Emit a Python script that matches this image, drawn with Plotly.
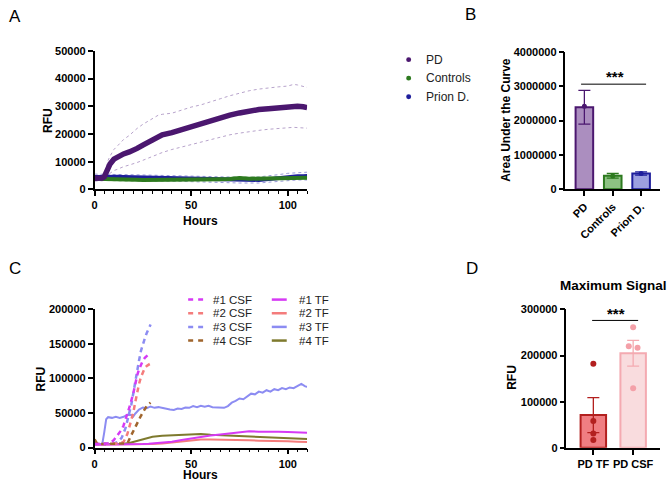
import plotly.graph_objects as go

W, H = 667, 488
def px(x): return x / W
def py(y): return 1 - y / H

FONT = "Liberation Sans, Arial, sans-serif"

# ---------------- Panel A data ----------------
hours_a = [0, 2, 4, 5, 6, 7, 8, 10, 12, 15, 18, 20, 22, 25, 28, 30, 33, 35,
           40, 45, 50, 55, 60, 65, 70, 75, 80, 85, 90, 95, 100, 103, 105, 108, 110]
pd_mean = [4000, 4000, 4100, 4500, 6500, 8000, 9200, 10900, 11800, 12800, 13500, 14000, 14800, 16000, 17200, 18000, 19300, 19700,
           20500, 21600, 22600, 23700, 24700, 25600, 26800, 27600, 28300, 28800, 29100, 29400, 29900, 30200, 30000, 29800, 29500]
pd_upper = [5000, 5000, 5100, 5400, 8500, 10500, 12000, 14400, 15800, 18000, 19500, 20900, 22000, 23500, 24800, 25600, 26800, 27100,
            27500, 28600, 29700, 30500, 31500, 32700, 33800, 34800, 35600, 36200, 36700, 37000, 37300, 37900, 37700, 37200, 36800]
pd_lower = [3000, 3000, 3100, 3500, 4500, 5300, 5800, 6800, 7300, 8200, 8800, 9150, 9700, 10500, 11300, 12100, 12800, 13300,
            14400, 15300, 16200, 17100, 18000, 18900, 19700, 20300, 20900, 21300, 21700, 22000, 22400, 22400, 22300, 22200, 22100]
ctrl_mean = [3800, 3800, 3750, 3750, 3700, 3700, 3700, 3650, 3600, 3550, 3500, 3500, 3450, 3400, 3400, 3350, 3350, 3300,
             3300, 3300, 3350, 3450, 3550, 3650, 3750, 4100, 3850, 3900, 3950, 4000, 4050, 4100, 4100, 4150, 4200]
ctrl_upper = [4300, 4300, 4250, 4250, 4200, 4200, 4200, 4150, 4100, 4050, 4000, 4000, 3950, 3900, 3900, 3850, 3850, 3800,
              3800, 3800, 3850, 3950, 4050, 4150, 4250, 4600, 4350, 4400, 4450, 4500, 4550, 4600, 4600, 4650, 4700]
ctrl_lower = [3300, 3300, 3250, 3250, 3200, 3200, 3200, 3150, 3100, 3050, 3000, 3000, 2950, 2900, 2900, 2850, 2850, 2800,
              2800, 2800, 2850, 2950, 3050, 3150, 3250, 3600, 3350, 3400, 3450, 3500, 3550, 3600, 3600, 3650, 3700]
prion_mean = [4500, 4550, 4600, 4600, 4600, 4600, 4600, 4600, 4550, 4500, 4450, 4400, 4400, 4350, 4300, 4250, 4200, 4200,
              4100, 4000, 3900, 3800, 3700, 3600, 3500, 3300, 3200, 3400, 3700, 4100, 4500, 4600, 4700, 4750, 4800]
prion_upper = [5500, 5500, 5500, 5500, 5500, 5500, 5500, 5500, 5450, 5400, 5350, 5300, 5250, 5200, 5150, 5100, 5050, 5000,
               4950, 4900, 4800, 4700, 4600, 4500, 4400, 4300, 4300, 4500, 4800, 5300, 5800, 6000, 6100, 6200, 6200]
prion_lower = [3500, 3500, 3500, 3500, 3500, 3500, 3500, 3500, 3450, 3400, 3350, 3300, 3300, 3250, 3200, 3150, 3100, 3100,
               3000, 2900, 2800, 2700, 2600, 2500, 2400, 2300, 2200, 2300, 2600, 2900, 3200, 3300, 3400, 3400, 3400]
legend_a = ["PD", "Controls", "Prion D."]

# ---------------- Panel B data ----------------
groups_b = ["PD", "Controls", "Prion D."]
auc_mean = [2390000, 395000, 460000]
auc_err = [490000, 66000, 47000]
auc_points = [2420000, 388000, 463000]

# ---------------- Panel C data ----------------
hours_tf = [0, 2, 4, 5, 6, 8, 10, 12, 15, 18, 20, 22, 25, 28, 30, 35, 40, 45, 50, 55, 60, 65, 68, 70,
            75, 80, 85, 90, 95, 100, 105, 108, 110]
tf1 = [4000, 4000, 4000, 4000, 4000, 4000, 4000, 4000, 4200, 4400, 4600, 4800, 5000, 5500, 6000,
       7000, 8500, 11000, 13500, 15500, 17500, 19000, 20000, 21000, 22000, 23500, 23000, 23500, 23000, 22500, 22000, 22000, 21500]
tf2 = [4500, 4500, 4500, 4500, 4500, 4500, 4500, 4500, 4500, 4600, 4700, 4800, 4900, 5000, 5200,
       6000, 7500, 9000, 10500, 11500, 11500, 11500, 11200, 11000, 11000, 10500, 10000, 10000, 9500, 9000, 8500, 8200, 8000]
tf4 = [5000, 5000, 5000, 5000, 5000, 5000, 5000, 5200, 5500, 6500, 8000, 10000, 12500, 14500, 15500,
       17000, 17500, 17500, 18000, 19500, 18500, 18000, 17800, 17500, 16500, 15500, 15000, 14500, 14000, 13500, 13000, 12800, 12500]
hours_tf3 = [0, 2, 4, 5, 6, 7, 9, 11, 13, 15, 17, 19, 20, 21, 23, 25, 27, 29, 31, 33, 35, 37, 39, 41,
             43, 45, 47, 49, 51, 53, 55, 57, 59, 61, 63, 65, 67, 69, 71, 73, 75, 77, 79, 81, 83, 85, 87, 89,
             91, 93, 95, 97, 99, 101, 103, 105, 107, 109, 110]
tf3 = [5000, 5000, 5500, 22000, 41000, 44000, 43000, 44500, 43000, 44500, 47500, 47000, 45000, 49000, 55000, 58000,
       57000, 59500, 57500, 58500, 57000, 56000, 55000, 54500, 56500, 56000, 58000, 57500, 60000, 58500, 60500, 59000,
       60500, 58500, 58000, 57000, 57500, 60000, 65000, 67500, 71000, 70000, 74000, 78000, 77000, 81000, 79500, 83000,
       81000, 84500, 83000, 86000, 84500, 87000, 86000, 89500, 92000, 88500, 88000]
csf1_t = [0, 5, 8, 10, 12, 14, 15, 16, 18, 20, 21, 22, 23, 24, 25, 26, 27, 28, 29]
csf1_v = [5000, 5000, 6000, 11000, 19000, 26000, 32000, 40000, 58000, 78000, 92000, 104000, 113000, 120000, 126000, 130000, 133000, 135000, 135000]
csf2_t = [0, 5, 10, 13, 15, 17, 18, 19, 20, 21, 22, 23, 24, 25, 26, 27, 28, 29]
csf2_v = [5000, 5000, 5000, 6000, 8000, 20000, 30000, 40000, 50000, 65000, 80000, 92000, 102000, 110000, 115000, 118000, 120000, 114000]
csf3_t = [0, 5, 10, 12, 14, 16, 18, 19, 20, 21, 22, 23, 24, 25, 26, 27, 28, 29]
csf3_v = [5000, 5000, 6000, 8000, 14000, 28000, 50000, 62000, 78000, 96000, 112000, 126000, 140000, 150000, 158000, 166000, 172000, 178000]
csf4_t = [0, 1, 2, 5, 10, 15, 17, 19, 20, 21, 22, 23, 24, 25, 26, 27, 28, 29]
csf4_v = [12000, 7000, 5000, 5000, 5000, 5000, 6000, 18000, 24000, 30000, 35000, 40000, 46000, 51000, 56000, 60000, 63000, 65000]
legend_c_csf = ["#1 CSF", "#2 CSF", "#3 CSF", "#4 CSF"]
legend_c_tf = ["#1 TF", "#2 TF", "#3 TF", "#4 TF"]

# ---------------- Panel D data ----------------
groups_d = ["PD TF", "PD CSF"]
max_mean = [71000, 205000]
max_err = [38000, 28000]
tf_points = [182000, 58000, 31000, 17000]
tf_points_x = [0, 0, 0, 0]
csf_points = [261000, 220000, 217000, 129000]
csf_points_x = [1, 0.89, 1.11, 1]

# colors
PD_COL, PD_BAND = "#4B176F", "#B7A3CB"
CTRL_COL, CTRL_BAND = "#2D7A1F", "#9CC594"
PRION_COL, PRION_BAND = "#1E1E9C", "#9A9AD8"
B_FILL = ["#AB8EBF", "#8DC283", "#9CA0E0"]
B_LINE = [PD_COL, CTRL_COL, PRION_COL]
C1, C2, C3, C4CSF, C4TF = "#D63AF5", "#F47C7C", "#8C8CF2", "#A0652D", "#7E7A2E"
D_FILL = ["#F07E82", "#F9DCDE"]
D_LINE = ["#B3201F", "#F4AAB1"]
D_DOT = ["#B3201F", "#F4A0A8"]

fig = go.Figure()

# Panel A
for up, lo, col in [(prion_upper, prion_lower, PRION_BAND), (ctrl_upper, ctrl_lower, CTRL_BAND), (pd_upper, pd_lower, PD_BAND)]:
    for band in (up, lo):
        fig.add_trace(go.Scatter(x=hours_a, y=band, mode="lines", line=dict(color=col, width=1, dash="dot"),
                                 xaxis="x", yaxis="y", showlegend=False, hoverinfo="skip"))
fig.add_trace(go.Scatter(x=hours_a, y=prion_mean, mode="lines", line=dict(color=PRION_COL, width=4),
                         xaxis="x", yaxis="y", showlegend=False, name="Prion D."))
fig.add_trace(go.Scatter(x=hours_a, y=ctrl_mean, mode="lines", line=dict(color=CTRL_COL, width=4),
                         xaxis="x", yaxis="y", showlegend=False, name="Controls"))
fig.add_trace(go.Scatter(x=hours_a, y=pd_mean, mode="lines", line=dict(color=PD_COL, width=5.5),
                         xaxis="x", yaxis="y", showlegend=False, name="PD"))

# Panel B
for i in range(3):
    fig.add_trace(go.Bar(x=[i], y=[auc_mean[i]], width=0.62, xaxis="x2", yaxis="y2",
                         marker=dict(color=B_FILL[i], line=dict(color=B_LINE[i], width=2)),
                         error_y=dict(type="data", array=[auc_err[i]], color=B_LINE[i], thickness=1.3, width=6),
                         showlegend=False, name=groups_b[i]))
    fig.add_trace(go.Scatter(x=[i], y=[auc_points[i]], mode="markers", xaxis="x2", yaxis="y2",
                             marker=dict(color=B_LINE[i], size=5), showlegend=False))

# Panel C
for xs, ys, col in [(hours_tf, tf2, C2), (hours_tf, tf4, C4TF), (hours_tf3, tf3, C3), (hours_tf, tf1, C1)]:
    fig.add_trace(go.Scatter(x=xs, y=ys, mode="lines", line=dict(color=col, width=2),
                             xaxis="x3", yaxis="y3", showlegend=False))
for xs, ys, col in [(csf3_t, csf3_v, C3), (csf2_t, csf2_v, C2), (csf4_t, csf4_v, C4CSF), (csf1_t, csf1_v, C1)]:
    fig.add_trace(go.Scatter(x=xs, y=ys, mode="lines", line=dict(color=col, width=2.5, dash="5px,4px"),
                             xaxis="x3", yaxis="y3", showlegend=False))

# Panel D
for i in range(2):
    fig.add_trace(go.Bar(x=[i], y=[max_mean[i]], width=0.64, xaxis="x4", yaxis="y4",
                         marker=dict(color=D_FILL[i], line=dict(color=D_LINE[i], width=2)),
                         error_y=dict(type="data", array=[max_err[i]], color=D_LINE[i], thickness=1.3, width=6),
                         showlegend=False, name=groups_d[i]))
fig.add_trace(go.Scatter(x=tf_points_x, y=tf_points, mode="markers", xaxis="x4", yaxis="y4",
                         marker=dict(color=D_DOT[0], size=6), showlegend=False))
fig.add_trace(go.Scatter(x=csf_points_x, y=csf_points, mode="markers", xaxis="x4", yaxis="y4",
                         marker=dict(color=D_DOT[1], size=6), showlegend=False))

tickfont = dict(family=FONT, size=11, color="black", weight="bold")
common = dict(showline=True, linecolor="black", linewidth=1.5, ticks="outside", ticklen=5, tickwidth=1.5,
              tickcolor="black", showgrid=False, zeroline=False, tickfont=tickfont, fixedrange=True)
minor = dict(dtick=5, tick0=0, ticks="outside", ticklen=3, tickwidth=1.2, tickcolor="black")

ax_a_x = [px(92), px(305.5)]
fig.update_layout(
    width=W, height=H, margin=dict(l=0, r=0, t=0, b=0),
    paper_bgcolor="white", plot_bgcolor="white", barmode="overlay",
    xaxis=dict(domain=ax_a_x, range=[0, 110], dtick=50, tick0=0, minor=minor, anchor="y", **common),
    yaxis=dict(domain=[py(188), py(46)], range=[0, 50000], dtick=10000, tickformat="d", anchor="x", **common),
    xaxis2=dict(domain=[px(565), px(660)], range=[-0.667, 2.667], tickvals=[0, 1, 2], ticktext=groups_b,
                tickangle=-45, anchor="y2", **common),
    yaxis2=dict(domain=[py(188), py(47)], range=[0, 4000000], dtick=1000000, tickformat="d", anchor="x2", **common),
    xaxis3=dict(domain=ax_a_x, range=[0, 110], dtick=50, tick0=0, minor=minor, anchor="y3", **common),
    yaxis3=dict(domain=[py(452.7), py(311)], range=[0, 200000], dtick=50000, tickformat="d", anchor="x3", **common),
    xaxis4=dict(domain=[px(566), px(660)], range=[-0.675, 1.675], tickvals=[0, 1], ticktext=groups_d,
                anchor="y4", **common),
    yaxis4=dict(domain=[py(453), py(311)], range=[0, 300000], dtick=100000, tickformat="d", anchor="x4", **common),
)

ann = []
def text(x, y, s, size=12, bold=True, angle=0, xanchor="center", color="black"):
    ann.append(dict(x=x, y=y, xref="paper", yref="paper", text=s, showarrow=False, textangle=angle,
                    xanchor=xanchor, yanchor="middle",
                    font=dict(family=FONT, size=size, color=color, weight="bold" if bold else "normal")))

# panel letters
text(px(12), py(11), "A", size=17, bold=False)
text(px(470), py(9), "B", size=17, bold=False)
text(px(12), py(269), "C", size=17, bold=False)
text(px(471), py(269), "D", size=17, bold=False)
# axis titles
text(px(45), py(117), "RFU", angle=-90)
text(px(198), py(220), "Hours")
text(px(505), py(117), "Area Under the Curve", angle=-90)
text(px(38), py(382), "RFU", angle=-90)
text(px(198), py(481), "Hours")
text(px(510.5), py(381), "RFU", angle=-90)
text(px(558), py(287), "Maximum Signal", size=13.5, xanchor="left")

shapes = []
# legend A
for i, (lab, col) in enumerate(zip(legend_a, [PD_COL, CTRL_COL, PRION_COL])):
    yy = 55 + 19 * i
    shapes.append(dict(type="circle", xref="paper", yref="paper", x0=px(405), x1=px(410), y0=py(yy + 2.5), y1=py(yy - 2.5),
                       fillcolor=col, line=dict(width=0)))
    text(px(423), py(yy), lab, size=12, bold=False, xanchor="left", color="#222")
# legend C
for i, (lab, col) in enumerate(zip(legend_c_csf, [C1, C2, C3, C4CSF])):
    yy = 301 + 14 * i
    shapes.append(dict(type="line", xref="paper", yref="paper", x0=px(186), x1=px(201), y0=py(yy), y1=py(yy),
                       line=dict(color=col, width=2.5, dash="5px,5px")))
    text(px(209), py(yy), lab, size=11.5, bold=False, xanchor="left", color="#222")
for i, (lab, col) in enumerate(zip(legend_c_tf, [C1, C2, C3, C4TF])):
    yy = 301 + 14 * i
    shapes.append(dict(type="line", xref="paper", yref="paper", x0=px(270), x1=px(285), y0=py(yy), y1=py(yy),
                       line=dict(color=col, width=2.5)))
    text(px(295), py(yy), lab, size=11.5, bold=False, xanchor="left", color="#222")

# significance bars
sig_b = dict(x0=-0.116, x1=2.175, y=3060000, star_x=1.09, star_y=3280000)
sig_d = dict(x0=-0.03, x1=1.125, y=276000, star_x=0.567, star_y=292000)
shapes.append(dict(type="line", xref="x2", yref="y2", x0=sig_b["x0"], x1=sig_b["x1"], y0=sig_b["y"], y1=sig_b["y"],
                   line=dict(color="black", width=1)))
shapes.append(dict(type="line", xref="x4", yref="y4", x0=sig_d["x0"], x1=sig_d["x1"], y0=sig_d["y"], y1=sig_d["y"],
                   line=dict(color="black", width=1)))
ann.append(dict(x=sig_b["star_x"], y=sig_b["star_y"], xref="x2", yref="y2", text="***", showarrow=False,
                font=dict(family=FONT, size=15, color="black", weight="bold")))
ann.append(dict(x=sig_d["star_x"], y=sig_d["star_y"], xref="x4", yref="y4", text="***", showarrow=False,
                font=dict(family=FONT, size=15, color="black", weight="bold")))

fig.update_layout(annotations=ann, shapes=shapes)
fig.write_html("out.html",
               post_script="document.body.style.margin='0';document.body.style.overflow='hidden';"
                           "document.documentElement.style.overflow='hidden';")
